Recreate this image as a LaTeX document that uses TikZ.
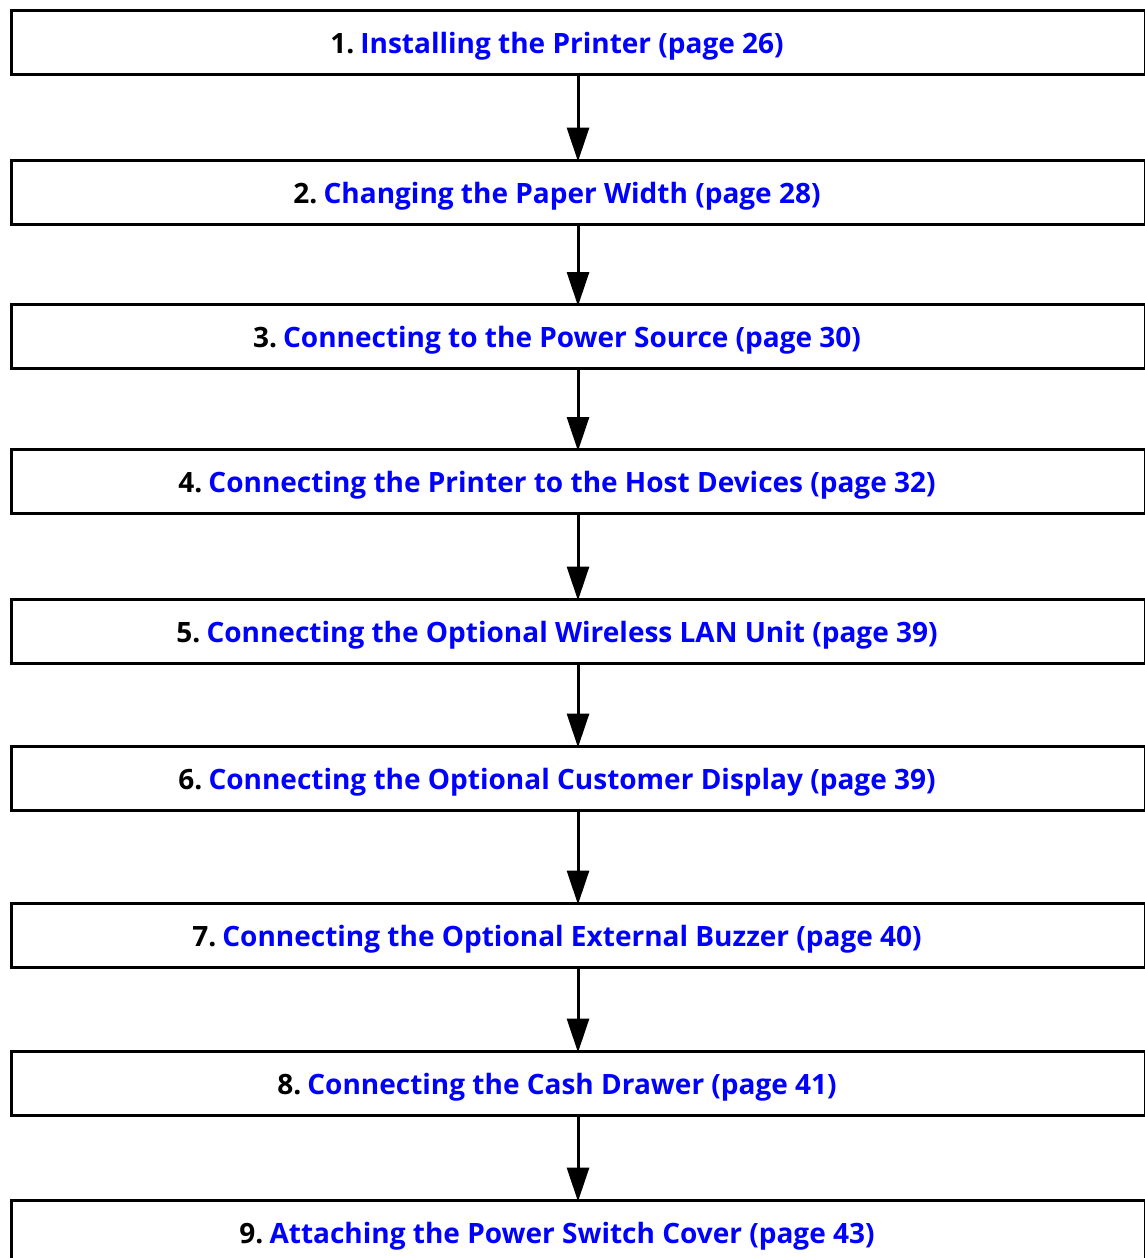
\documentclass[tikz,border=0pt]{standalone}
\usepackage{fontspec}
\setmainfont{Open Sans}
\usetikzlibrary{arrows.meta}
\definecolor{linkblue}{RGB}{0,0,255}
\newcommand{\stepnum}[2]{#1.\hspace{0.22em}\textcolor{linkblue}{#2}}
\tikzset{
  stepbox/.style={draw=black, line width=3pt, minimum width=1134pt, minimum height=64pt, inner sep=0pt, outer sep=0pt},
  steptext/.style={anchor=base, inner sep=0pt, font=\bfseries\fontsize{28}{32}\selectfont},
  flowarrow/.style={line width=3pt, -{Triangle[length=34pt,width=22pt]}, shorten >=-1.5pt}
}
\begin{document}
\begin{tikzpicture}[x=1pt,y=-1pt]
\useasboundingbox (0,0) rectangle (1144,1258);
\foreach \n/\yc in {1/42,2/192,3/336.5,4/481.5,5/631,6/778,7/935,8/1083,9/1232}{
  \node[stepbox] (b\n) at (578,\yc) {};
}
\node[steptext] (t1) at (557,53) {\stepnum{1}{Installing the Printer (page 26)}};
\node[steptext] (t2) at (557,203) {\stepnum{2}{Changing the Paper Width (page 28)}};
\node[steptext] (t3) at (557,347.5) {\stepnum{3}{Connecting to the Power Source (page 30)}};
\node[steptext] (t4) at (557,492.5) {\stepnum{4}{Connecting the Printer to the Host Devices (page 32)}};
\node[steptext] (t5) at (557,642) {\stepnum{5}{Connecting the Optional Wireless LAN Unit (page 39)}};
\node[steptext] (t6) at (557,789) {\stepnum{6}{Connecting the Optional Customer Display (page 39)}};
\node[steptext] (t7) at (557,946) {\stepnum{7}{Connecting the Optional External Buzzer (page 40)}};
\node[steptext] (t8) at (557,1094) {\stepnum{8}{Connecting the Cash Drawer (page 41)}};
\node[steptext] (t9) at (557,1243) {\stepnum{9}{Attaching the Power Switch Cover (page 43)}};
\foreach \a/\b in {1/2,2/3,3/4,4/5,5/6,6/7,7/8,8/9}{
  \draw[flowarrow] (b\a.south) -- (b\b.north);
}
\end{tikzpicture}
\end{document}
